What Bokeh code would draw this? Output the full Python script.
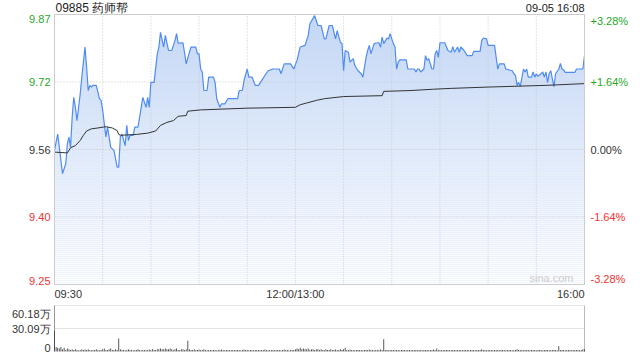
from bokeh.plotting import figure
from bokeh.models import Range1d, Label
from bokeh.layouts import column
from bokeh.embed import file_html
from bokeh.resources import INLINE

FONT = "Liberation Sans"

# ---------------- data ----------------
stock_title = "09885 药师帮"
stamp = "09-05 16:08"
prev_close = 9.56
pct_levels = [3.28, 1.64, 0.0, -1.64, -3.28]
time_labels = ["09:30", "12:00/13:00", "16:00"]
time_label_pos = [0, 150, 330]          # trading minutes since 09:30 (lunch removed)
total_minutes = 330

price_min = [0, 2, 5, 7, 8, 9, 10, 11, 12, 13, 14, 15, 16, 17, 19, 20, 21, 22, 23, 24,
             26, 28, 29, 30, 31, 32, 33, 34, 35, 37, 39, 40, 41, 42, 44, 45, 46, 47, 49, 50,
             52, 54, 55, 57, 58, 59, 60, 62, 64, 65, 66, 68, 69, 71, 73, 75, 76, 77,
             80, 82, 84, 85, 88, 89, 90, 91, 92, 93, 95, 96, 99, 100, 101, 103, 104, 106, 108, 114,
             115, 117, 118, 120, 121, 123, 125, 127, 129, 131, 133, 136, 140, 141, 143, 147, 149, 151,
             153, 156, 158, 159, 162,
             164, 166, 168, 169, 171, 173, 174, 175, 176, 178, 179, 180, 181, 183, 184, 186, 187, 189,
             191, 192, 194, 195, 196, 197, 199, 201, 202, 203, 204, 205, 207, 208, 209, 210, 211, 212,
             213, 214, 215, 219, 220, 224, 225, 226, 227, 228, 230, 231, 232, 233, 235, 236, 237, 238,
             239, 240, 243,
             245, 247, 248, 249, 251, 252, 253, 255, 257, 260, 261, 265, 266, 267, 269, 270, 274, 275,
             276, 277, 280, 281, 285, 286, 287, 288, 289, 290, 292, 293, 294, 295, 297, 298, 299, 300,
             301, 303, 304, 305, 306, 307, 308, 309, 310, 311, 312, 314, 315, 316, 317, 318, 324, 325,
             329, 330]
price_val = [9.558, 9.596, 9.504, 9.527, 9.573, 9.589, 9.565, 9.635, 9.681, 9.658, 9.627, 9.658,
             9.689, 9.728, 9.798, 9.751, 9.697, 9.709, 9.705, 9.709, 9.709, 9.678, 9.674, 9.651,
             9.620, 9.589, 9.612, 9.589, 9.565, 9.558, 9.519, 9.519, 9.589, 9.596, 9.569, 9.616,
             9.581, 9.593, 9.593, 9.612, 9.612, 9.658, 9.681, 9.658, 9.681, 9.658, 9.716, 9.716,
             9.782, 9.798, 9.832, 9.798, 9.825, 9.790, 9.790, 9.813, 9.829, 9.807,
             9.808, 9.759, 9.786, 9.798, 9.798, 9.782, 9.782, 9.747, 9.740, 9.697,
             9.697, 9.728, 9.728, 9.716, 9.678, 9.658, 9.666, 9.666, 9.678, 9.678,
             9.697, 9.697, 9.720, 9.747, 9.728, 9.728, 9.709, 9.709, 9.720, 9.732,
             9.743, 9.747, 9.747, 9.736, 9.759, 9.759, 9.747, 9.767, 9.798, 9.802,
             9.825, 9.852, 9.871,
             9.848, 9.848, 9.817, 9.817, 9.848, 9.848, 9.832, 9.817, 9.836, 9.809,
             9.806, 9.743, 9.790, 9.786, 9.763, 9.771, 9.755, 9.743, 9.736, 9.728,
             9.774, 9.790, 9.802, 9.782, 9.806, 9.808, 9.808, 9.798, 9.821, 9.806,
             9.819, 9.817, 9.829, 9.817, 9.806, 9.798, 9.747, 9.763, 9.768, 9.768,
             9.747, 9.747, 9.740, 9.747, 9.747, 9.740, 9.747, 9.778, 9.767, 9.771,
             9.747, 9.747, 9.782, 9.790, 9.774, 9.808, 9.808,
             9.790, 9.786, 9.799, 9.786, 9.798, 9.786, 9.798, 9.790, 9.778, 9.778,
             9.788, 9.788, 9.813, 9.819, 9.817, 9.802, 9.802, 9.774, 9.747, 9.759,
             9.759, 9.747, 9.743, 9.736, 9.732, 9.709, 9.716, 9.706, 9.747, 9.740,
             9.747, 9.728, 9.728, 9.740, 9.728, 9.736, 9.730, 9.736, 9.740, 9.728,
             9.740, 9.716, 9.736, 9.743, 9.724, 9.706, 9.736, 9.747, 9.760, 9.747,
             9.745, 9.739, 9.739, 9.747, 9.747, 9.778]

avg_min = [0, 8, 10, 13, 16, 18, 20, 23, 27, 32, 36, 39, 40, 41, 51, 58, 63, 66, 70, 74,
           77, 82, 83, 91, 120, 150, 153, 157, 163, 168, 180, 204, 205, 222, 236, 247, 270, 306, 330]
avg_val = [9.554, 9.552, 9.564, 9.569, 9.581, 9.593, 9.603, 9.608, 9.610, 9.613,
           9.610, 9.604, 9.595, 9.593, 9.595, 9.598, 9.603, 9.616, 9.623, 9.627,
           9.637, 9.639, 9.649, 9.652, 9.656, 9.658, 9.664, 9.668, 9.674, 9.678,
           9.683, 9.685, 9.695, 9.697, 9.700, 9.702, 9.705, 9.709, 9.713]

# volume, in 万 shares, one value per trading minute
volume = [27, 6, 5, 4, 6, 3, 5, 2, 4, 3,
          2, 3, 2, 3, 2, 1.5, 2, 3, 2, 2.5,
          2, 3, 2, 1.5, 2, 2, 3, 2, 1.5, 2,
          3, 4, 2, 2, 3, 4, 2, 2, 3, 2,
          17, 3, 2, 2, 1.5, 2, 3, 2, 2, 1.5,
          2, 2, 3, 2, 1.5, 2, 2, 1.5, 2, 2.5,
          2, 3, 2, 2, 3, 3, 4, 3, 3, 4,
          3, 3, 4, 3, 2, 3, 4, 2, 2, 3,
          3, 2, 3, 14, 3, 2, 2, 3, 2, 2,
          2.5, 2, 2, 3, 2, 1.5, 2, 2, 1.5, 2,
          2, 1.5, 2, 2, 2.5, 2, 1.5, 2, 2, 1.5,
          2, 2, 1.5, 2, 2, 2, 1.5, 2, 2.5, 2,
          2, 1.5, 2, 2, 1.5, 2, 2, 2, 1.5, 2,
          2, 2.5, 2, 1.5, 2, 2, 2, 1.5, 2, 2,
          2, 1.5, 2, 2.5, 2, 2, 1.5, 2, 2, 2,
          3, 4, 3, 5, 3, 4, 3, 3, 4, 2,
          3, 3, 2, 3, 3, 2, 3, 2, 2, 3,
          2, 2, 3, 2, 2, 2.5, 2, 2, 3, 2,
          3, 5, 2, 2, 2.5, 2, 2, 1.5, 2, 2,
          2, 2, 1.5, 2, 2, 2, 2.5, 2, 2, 1.5,
          2, 2, 2, 2.5, 2, 16, 2, 2, 1.5, 2,
          2, 2, 1.5, 2, 2, 1.5, 2, 2, 2, 1.5,
          2, 2, 1.5, 2, 2, 2, 1.5, 2, 2, 1.5,
          2, 2, 2, 1.5, 2, 2, 2.5, 2, 4, 2,
          2, 1.5, 2, 2, 2, 2, 1.5, 2, 2, 2,
          1.5, 2, 2, 2, 1.5, 2, 2, 2, 1.5, 2,
          2, 2, 1.5, 2, 2, 2, 3, 2, 2, 1.5,
          2, 2, 2, 1.5, 2, 2, 2, 1.5, 2, 2,
          2, 1.5, 2, 2, 2, 1.5, 2, 2, 3, 2,
          2, 2, 1.5, 2, 2, 2, 1.5, 2, 2, 2,
          1.5, 2, 2, 2, 1.5, 2, 2, 2, 1.5, 2,
          2, 2, 2, 1.5, 7, 2, 2, 2, 1.5, 2,
          2, 2, 1.5, 2, 2, 2, 1.5, 2, 2, 3,
          3]
vol_max = 60.18
vol_labels = ["60.18万", "30.09万", "0"]
vol_label_pos = [60.18, 30.09, 0]

assert len(price_min) == len(price_val)
assert len(avg_min) == len(avg_val)

# ---------------- layout & styling ----------------
GREEN = "#1fa81f"
RED = "#f23333"
DARK = "#333333"
GRID = "#c8c8c8"
BLUE = "#4f8cf0"

W = 632
MAIN_H = 300
VOL_H = 52
PL, PR = 54, 584            # chart area left/right in canvas pixels
PT, PB = 14, 284            # main chart area top/bottom
VT, VB = 5, 51              # volume chart area top/bottom (inside the volume canvas)

ymax = prev_close * (1 + pct_levels[0] / 100)
ymin = prev_close * (1 + pct_levels[-1] / 100)

xppm = (PR - PL) / total_minutes
x_rng = Range1d(-PL / xppm, total_minutes + (W - PR) / xppm)
yppu = (PB - PT) / (ymax - ymin)
y_rng = Range1d(ymin - (MAIN_H - PB) / yppu, ymax + PT / yppu)


def base_fig(h, yr):
    f = figure(width=W, height=h, x_range=x_rng, y_range=yr,
               x_axis_location=None, y_axis_location=None, toolbar_location=None,
               output_backend="svg", min_border=0)
    f.min_border_left = f.min_border_right = f.min_border_top = f.min_border_bottom = 0
    f.outline_line_color = None
    f.background_fill_color = "white"
    f.border_fill_color = "white"
    f.grid.grid_line_color = None
    return f


p = base_fig(MAIN_H, y_rng)

# area under price line with vertical gradient (blue at top fading to white)
p.varea(x=price_min, y1=ymin, y2=price_val, fill_color=(196, 215, 246), fill_alpha=1.0)
n_bands = (PB - PT) // 2
h = (ymax - ymin) / n_bands
b_bot = [ymin + i * h for i in range(n_bands)]
b_top = [ymin + (i + 1) * h for i in range(n_bands)]
b_alpha = [(ymax - (ymin + (i + 0.5) * h)) / (ymax - ymin) for i in range(n_bands)]
p.quad(left=0, right=total_minutes, bottom=b_bot, top=b_top, fill_color="white",
       fill_alpha=b_alpha, line_color=None)

# grid
vx = list(range(30, total_minutes, 30))
p.segment(x0=vx, x1=vx, y0=ymin, y1=ymax, line_color=GRID, line_dash="1 2", line_width=1)
hy = [prev_close * (1 + q / 100) for q in pct_levels[1:-1]]
p.segment(x0=0, x1=total_minutes, y0=hy, y1=hy, line_color=GRID, line_dash="1 2", line_width=1)

p.line(price_min, price_val, line_color=BLUE, line_width=1.2)
p.line(avg_min, avg_val, line_color=DARK, line_width=1)

# chart border
p.quad(left=0, right=total_minutes, bottom=ymin, top=ymax, fill_color=None,
       line_color="#cccccc", line_width=1)


def lab(fig, x, y, text, align, baseline, color, size=11, xo=0, yo=0):
    fig.add_layout(Label(x=x, y=y, text=text, text_align=align, text_baseline=baseline,
                         text_color=color, text_font=FONT, text_font_size=f"{size}px",
                         x_offset=xo, y_offset=yo))


for i, q in enumerate(pct_levels):
    price = prev_close * (1 + q / 100)
    col = GREEN if q > 0 else (RED if q < 0 else DARK)
    base = "top" if i == 0 else ("bottom" if i == len(pct_levels) - 1 else "middle")
    lab(p, 0, price, f"{price:.2f}", "right", base, col, 11, xo=-4)
    ptxt = f"+{q:.2f}%" if q > 0 else f"{q:.2f}%"
    lab(p, total_minutes, price, ptxt, "left", base, col, 11, xo=6)

for t, pos in zip(time_labels, time_label_pos):
    al = "left" if pos == 0 else ("right" if pos == total_minutes else "center")
    lab(p, pos, ymin, t, al, "top", DARK, 11, yo=-3)

lab(p, 0, ymax, stock_title, "left", "bottom", "#222222", 12, xo=1, yo=0)
lab(p, total_minutes, ymax, stamp, "right", "bottom", "#222222", 11, yo=1)
lab(p, total_minutes, ymin, "sina.com", "right", "bottom", "#cccccc", 11, xo=-11, yo=1)

# ---------------- volume panel ----------------
vppu = (VB - VT) / vol_max
v = base_fig(VOL_H, Range1d(-(VOL_H - VB) / vppu, vol_max + VT / vppu))
v.segment(x0=0, x1=total_minutes, y0=[vol_max, vol_max / 2], y1=[vol_max, vol_max / 2],
          line_color=GRID, line_dash="1 1", line_width=1)
v.segment(x0=[0, total_minutes], x1=[0, total_minutes], y0=0, y1=vol_max,
          line_color=["#999999", "#bbbbbb"], line_width=1)
v.vbar(x=list(range(len(volume))), top=volume, width=0.55, fill_color="#444444", line_color=None)
v.segment(x0=0, x1=total_minutes, y0=0, y1=0, line_color="#cccccc", line_dash="1 1")

for t, pos in zip(vol_labels, vol_label_pos):
    base = "top" if pos == vol_max else ("bottom" if pos == 0 else "middle")
    lab(v, 0, pos, t, "right", base, DARK, 11, xo=-4, yo=(-2 if base == "top" else 0))

layout = column(p, v, spacing=0)
open("out.html", "w").write(file_html(layout, INLINE))
